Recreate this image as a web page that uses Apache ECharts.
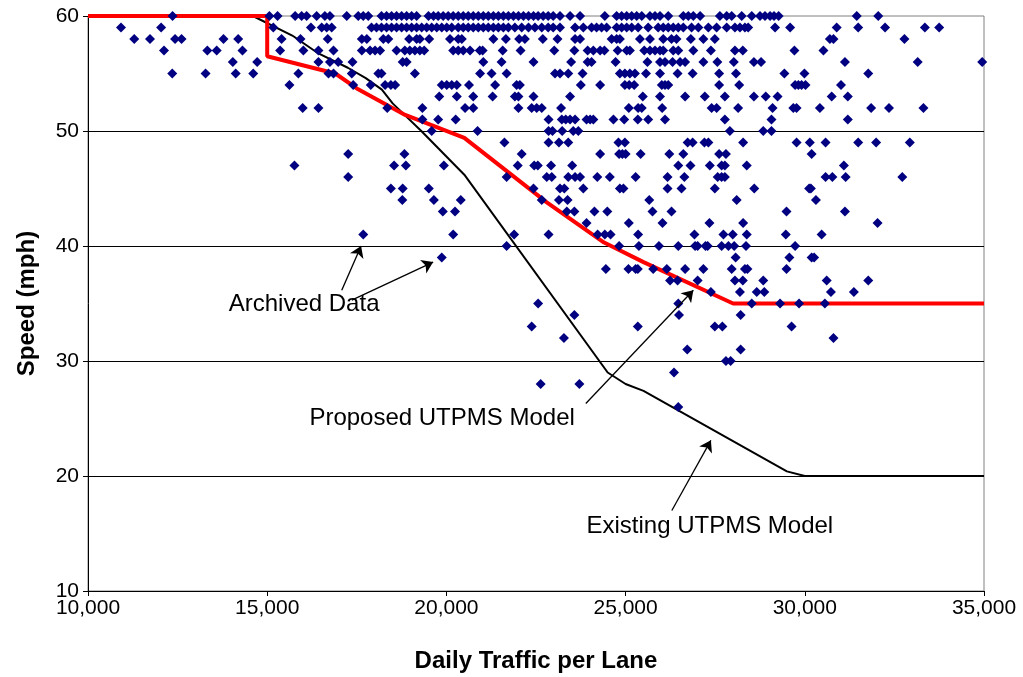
<!DOCTYPE html>
<html>
<head>
<meta charset="utf-8">
<script src="https://cdn.jsdelivr.net/npm/echarts@6/dist/echarts.min.js"></script>
<style>
html,body{margin:0;padding:0;background:#fff;}
#chart{width:1023px;height:677px;}
</style>
</head>
<body>
<div id="chart"></div>
<script>
// Tick labels / axis ranges
const xTicks = [10000, 15000, 20000, 25000, 30000, 35000];
const yTicks = [10, 20, 30, 40, 50, 60];

// Archived data: speeds (mph) and the daily traffic values observed at each speed
const archivedSpeeds = [60,59,58,57,56,55,54,53,52,51,50,49,48,47,46,45,44,43,42,41,40,39,38,37,36,35,34,33,32,31,30,29,28,26];
const archivedTrafficBySpeed = [
  [12360,15060,15290,15780,15960,16100,16380,16610,16750,17220,17540,17680,17820,18190,18330,18470,18610,18750,18890,19030,19170,19500,19640,19770,19910,20050,20190,20330,20470,20610,20750,20890,21030,21170,21310,21450,21590,21730,21870,22010,22150,22290,22430,22560,22700,22840,22980,23170,23450,23730,24420,24750,24890,25030,25170,25310,25450,25680,25820,25960,26190,26610,26750,26890,27080,27630,27820,27960,28240,28520,28750,28890,29030,29140,29270,31450,32050],
  [10920,12040,15170,16220,16520,16660,16800,17910,18050,18190,18330,18470,18610,18750,18890,19030,19170,19310,19450,19590,19730,19870,20010,20150,20330,20470,20610,20750,20890,21030,21170,21310,21450,21590,21730,21910,22100,22290,22470,22660,22840,22980,23170,23590,23820,24050,24190,24330,24470,24750,24890,25030,25170,25350,25630,25910,26050,26190,26330,26470,26610,26840,27030,27310,27540,27820,28050,28190,28330,28420,29170,29590,30890,31490,32240,33350,33750],
  [11290,11730,12430,12610,13780,14190,15400,15930,16690,17640,17780,18240,18380,18960,19170,19260,19520,20100,20330,20430,21310,21660,22030,22190,22690,23100,23590,23730,24610,24750,24840,25400,25680,26050,26280,26420,26820,27170,27490,30700,30800,32780],
  [12120,13330,13590,14310,15360,16010,16430,16850,17640,17870,18010,18150,18610,18840,18980,19120,19260,19380,20190,20330,20470,20660,20930,21010,21570,22070,23010,23570,23940,24100,24290,24410,24780,25030,25120,25520,25680,25820,25960,26050,26330,26470,26890,27380,28050,28270,29710,30520],
  [14040,14720,16430,16750,16980,17380,18780,18890,21030,21540,22430,23480,23940,24050,24720,25610,25960,26100,26310,26520,26660,27170,27560,28020,28580,28780,31120,33150,34950],
  [12350,13280,14120,14610,15870,16710,16850,17360,18100,18190,19120,20940,21260,21680,23030,23170,23400,23800,24840,24980,25120,25260,25570,25960,26450,26870,27610,28080,29430,29990,31770],
  [15620,17400,17890,18290,18450,18570,19870,20010,20150,20290,20630,21360,21960,22050,23750,24290,24980,25100,25240,26010,26100,26190,27610,28170,29730,29820,29910,30020,31010],
  [19800,20290,20750,21290,21910,22010,22430,23450,25480,25960,26660,27210,27770,28580,28910,29240,30750,31200],
  [15990,16430,18350,19330,20520,20750,22010,22380,22520,22660,23200,25090,25350,25450,26020,27400,27540,28140,29100,29680,29770,30420,31850,32350,33310],
  [19330,19770,20260,22850,23220,23330,23450,23590,23910,24010,24100,24660,24960,25340,25630,26100,27770,29070,31200],
  [19590,20870,22850,22960,23230,23540,23680,27910,28840,29070],
  [21620,22850,23140,23400,24800,24980,26730,26870,27200,27310,28280,29770,30140,30580,31490,31990,32930],
  [17260,18830,22100,24290,24820,24910,25000,25420,26220,26610,27610,27800,30190],
  [15760,18540,18870,19930,21990,22450,22550,22920,23510,26470,26810,27350,27680,27770,28380,31090],
  [17260,21680,22800,22940,23400,23590,23730,24210,24560,25280,26170,26640,27570,27680,27770,30580,30770,31140,32720],
  [18450,18780,19510,22430,23170,23290,23820,24840,24940,26170,26560,27490,28590,30120,30170],
  [18770,19650,20400,22660,23140,23380,25660,28100,30310],
  [19900,20240,23360,23570,24130,24490,25750,26280,29490,31120],
  [23910,25090,26030,27340,28280,32030],
  [17680,20190,21890,22850,24220,24420,24580,25350,26920,27730,27990,28380,29470,30470],
  [21680,24820,25370,25930,26470,26940,27010,27230,27290,27680,27870,28030,28360,29730],
  [19870,28070,29570,30190,30260],
  [24450,25080,25280,25340,25770,26150,26660,27170,27960,28330,28400,29490],
  [26240,26450,27010,28050,28270,28840,30610,31770],
  [27380,28190,28660,28870,30730,31370],
  [22560,26470,28520,29310,29840,30560],
  [23570,26490,28210],
  [22380,25340,27490,27700,29630],
  [23280,30800],
  [26720,28210],
  [27800,27930],
  [26350],
  [22630,23710],
  [26470]
];

// Model curves: [daily traffic, speed]
const existingModel = [[10000,60],[14600,60],[15700,58.3],[16400,56.8],[17250,55.5],[17750,54.6],[18200,53.6],[18500,52.4],[19300,50],[20500,46.2],[24500,29],[25000,28],[25500,27.4],[29500,20.4],[30000,20],[35000,20]];
const proposedModel = [[10000,60],[15000,60],[15000,56.5],[16900,55],[17500,53.7],[18850,51.4],[20500,49.4],[22800,43.8],[24400,40.3],[25500,38.6],[28000,35],[35000,35]];

// Annotations: label text, label anchor, arrow tail and tip
const annotationLabels = [
  {text: 'Archived Data', at: [16030, 34.9]},
  {text: 'Proposed UTPMS Model', at: [19880, 25.0]},
  {text: 'Existing UTPMS Model', at: [27350, 15.6]}
];
const annotationArrows = [
  [[17080, 36.15], [17620, 40.0]],
  [[17360, 35.3], [19630, 38.6]],
  [[23890, 26.3], [26890, 36.15]],
  [[26290, 17.0], [27380, 23.1]]
];

const archivedPoints = [];
archivedSpeeds.forEach((s, i) => archivedTrafficBySpeed[i].forEach(t => archivedPoints.push([t, s])));

const FONT = 'Liberation Sans, Arial, sans-serif';
const chart = echarts.init(document.getElementById('chart'), null, {renderer: 'canvas'});
chart.setOption({
  animation: false,
  backgroundColor: '#ffffff',
  grid: {left: 88, right: 39, top: 16, bottom: 86, containLabel: false, outerBoundsMode: 'none',
    show: true, borderColor: '#808080', borderWidth: 1, backgroundColor: 'transparent'},
  xAxis: {
    type: 'value', min: xTicks[0], max: xTicks[xTicks.length - 1], interval: 5000,
    name: 'Daily Traffic per Lane', nameLocation: 'middle', nameGap: 58,
    nameTextStyle: {fontFamily: FONT, fontSize: 24, fontWeight: 'bold', color: '#000'},
    axisLine: {show: true, lineStyle: {color: '#000', width: 1}},
    axisTick: {show: true, length: 5, lineStyle: {color: '#000'}},
    axisLabel: {fontFamily: FONT, fontSize: 21, color: '#000', margin: 7,
      formatter: v => v.toLocaleString('en-US')},
    splitLine: {show: false}
  },
  yAxis: {
    type: 'value', min: yTicks[0], max: yTicks[yTicks.length - 1], interval: 10,
    name: 'Speed (mph)', nameLocation: 'middle', nameGap: 49,
    nameTextStyle: {fontFamily: FONT, fontSize: 24, fontWeight: 'bold', color: '#000'},
    axisLine: {show: true, lineStyle: {color: '#000', width: 1}},
    axisTick: {show: true, length: 5, lineStyle: {color: '#000'}},
    axisLabel: {fontFamily: FONT, fontSize: 21, color: '#000', margin: 9},
    splitLine: {show: true, showMaxLine: false, lineStyle: {color: '#000', width: 1}}
  },
  series: [
    {
      name: 'Existing UTPMS Model', type: 'line', data: existingModel, showSymbol: false, symbol: 'none',
      lineStyle: {color: '#000', width: 2}, z: 2
    },
    {
      name: 'Proposed UTPMS Model', type: 'line', data: proposedModel, showSymbol: false, symbol: 'none',
      lineStyle: {color: '#ff0000', width: 4}, z: 3
    },
    {
      name: 'Archived Data', type: 'scatter', data: archivedPoints, symbol: 'diamond', symbolSize: 10,
      itemStyle: {color: '#000080', opacity: 1}, z: 4
    },
    {
      type: 'lines', coordinateSystem: 'cartesian2d', polyline: false,
      data: annotationArrows.map(a => ({coords: a})),
      symbol: ['none', 'arrow'], symbolSize: [0, 11],
      lineStyle: {color: '#000', width: 1.3, opacity: 1}, z: 5, silent: true
    },
    {
      type: 'scatter', symbolSize: 0, z: 6, silent: true,
      itemStyle: {opacity: 1},
      data: annotationLabels.map(l => ({value: l.at, name: l.text})),
      label: {show: true, position: 'inside', formatter: p => p.name,
        fontFamily: FONT, fontSize: 24, color: '#000', opacity: 1}
    }
  ]
});
</script>
</body>
</html>
